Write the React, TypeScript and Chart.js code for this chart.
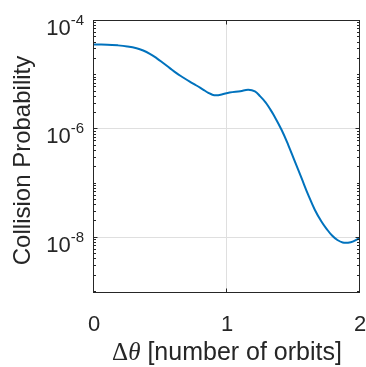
import React, { useEffect, useRef } from "react";
import { Chart, registerables } from "chart.js";

Chart.register(...registerables);

// ---- data ----
const orbitOffsets = [
  0.0, 0.1, 0.18, 0.25, 0.32, 0.37, 0.42, 0.47, 0.52, 0.57, 0.62, 0.67, 0.72, 0.77,
  0.82, 0.86, 0.89, 0.92, 0.96, 1.02, 1.1, 1.16, 1.21, 1.25, 1.29, 1.32, 1.35, 1.41,
  1.46, 1.51, 1.56, 1.61, 1.66, 1.71, 1.75, 1.79, 1.83, 1.87, 1.91, 1.95, 2.0,
];
const collisionProbability = [
  3.67e-5, 3.66e-5, 3.55e-5, 3.39e-5, 3.14e-5, 2.85e-5, 2.48e-5, 2.07e-5, 1.68e-5,
  1.35e-5, 1.09e-5, 9.08e-6, 7.62e-6, 6.46e-6, 5.43e-6, 4.73e-6, 4.37e-6, 4.27e-6,
  4.42e-6, 4.79e-6, 5.07e-6, 5.37e-6, 5.01e-6, 4.07e-6, 3.16e-6, 2.45e-6, 1.86e-6,
  9.84e-7, 5.2e-7, 2.56e-7, 1.27e-7, 6.25e-8, 3.3e-8, 2.0e-8, 1.45e-8, 1.1e-8,
  9.1e-9, 8.2e-9, 8.13e-9, 8.6e-9, 1.0e-8,
];

const xTickValues = [0, 1, 2];
const xTickLabels = ["0", "1", "2"];
const yTickValues = [1e-8, 1e-6, 1e-4];
const yTickBases = ["10", "10", "10"];
const yTickExponents = ["-8", "-6", "-4"];
const xMin = 0;
const xMax = 2;
const yMin = 1e-9;
const yMax = 1e-4;
const xLabelSymbolA = "Δ";
const xLabelSymbolB = "θ";
const xLabelText = "[number of orbits]";
const yLabelText = "Collision Probability";

// ---- styles ----
const SANS = '"Liberation Sans", Arial, Helvetica, sans-serif';
const SERIF = '"Liberation Serif", "Times New Roman", serif';
const AXIS_COLOR = "#262626";
const GRID_COLOR = "#dfdfdf";
const LINE_COLOR = "#0072BD";

const matlabAxes = {
  id: "matlabAxes",
  beforeDatasetsDraw(chart: any) {
    const { ctx, chartArea: a, scales } = chart;
    const xs = scales.x;
    const ys = scales.y;
    ctx.save();
    ctx.strokeStyle = GRID_COLOR;
    ctx.lineWidth = 1;
    ctx.beginPath();
    for (const v of xTickValues) {
      const px = Math.round(xs.getPixelForValue(v)) - 0.5;
      ctx.moveTo(px, a.top);
      ctx.lineTo(px, a.bottom);
    }
    for (const v of yTickValues) {
      const py = Math.round(ys.getPixelForValue(v)) - 0.5;
      ctx.moveTo(a.left, py);
      ctx.lineTo(a.right, py);
    }
    ctx.stroke();
    ctx.restore();
  },
  afterDatasetsDraw(chart: any) {
    const { ctx, chartArea: a, scales } = chart;
    const xs = scales.x;
    const ys = scales.y;
    ctx.save();
    ctx.strokeStyle = AXIS_COLOR;
    ctx.lineWidth = 1;
    const L = a.left - 0.5;
    const R = a.right - 0.5;
    const T = a.top - 0.5;
    const B = a.bottom + 0.5;
    ctx.strokeRect(L, T, R - L, B - T);

    ctx.beginPath();
    const majorLen = 4;
    const minorLen = 2.5;
    for (const v of xTickValues) {
      const px = Math.round(xs.getPixelForValue(v)) - 0.5;
      ctx.moveTo(px, B);
      ctx.lineTo(px, B - majorLen);
      ctx.moveTo(px, T);
      ctx.lineTo(px, T + majorLen);
    }
    const expLo = Math.floor(Math.log10(yMin));
    const expHi = Math.ceil(Math.log10(yMax));
    for (let e = expLo; e < expHi; e++) {
      for (let k = 1; k <= 9; k++) {
        const v = k * Math.pow(10, e);
        if (v < yMin * 0.999 || v > yMax * 1.001) continue;
        const isMajor = yTickValues.some((t) => Math.abs(t - v) / t < 1e-6);
        const len = isMajor ? majorLen : minorLen;
        const py = Math.round(ys.getPixelForValue(v)) - 0.5;
        ctx.moveTo(L, py);
        ctx.lineTo(L + len, py);
        ctx.moveTo(R, py);
        ctx.lineTo(R - len, py);
      }
    }
    ctx.stroke();

    // tick labels
    ctx.fillStyle = AXIS_COLOR;
    ctx.font = `22px ${SANS}`;
    ctx.textAlign = "center";
    ctx.textBaseline = "alphabetic";
    xTickValues.forEach((v, i) => {
      const px = xs.getPixelForValue(v);
      ctx.fillText(xTickLabels[i], px, a.bottom + 39);
    });

    yTickValues.forEach((v, i) => {
      const py = ys.getPixelForValue(v);
      ctx.font = `15px ${SANS}`;
      const ew = ctx.measureText(yTickExponents[i]).width;
      const expRight = a.left - 10;
      ctx.textAlign = "left";
      ctx.fillText(yTickExponents[i], expRight - ew, py + 4);
      ctx.font = `22px ${SANS}`;
      ctx.textAlign = "right";
      ctx.fillText(yTickBases[i], expRight - ew, py + 14);
    });

    // x axis label
    const fontA = `25px ${SERIF}`;
    const fontB = `italic 25px ${SERIF}`;
    const fontC = `25px ${SANS}`;
    const gap = 6;
    ctx.font = fontA;
    const wA = ctx.measureText(xLabelSymbolA).width;
    ctx.font = fontB;
    const wB = ctx.measureText(xLabelSymbolB).width + 1;
    ctx.font = fontC;
    const wC = ctx.measureText(xLabelText).width;
    const cx = (a.left + a.right) / 2;
    let sx = cx - (wA + wB + gap + wC) / 2;
    const by = a.bottom + 68;
    ctx.textAlign = "left";
    ctx.font = fontA;
    ctx.fillText(xLabelSymbolA, sx, by);
    sx += wA;
    ctx.font = fontB;
    ctx.fillText(xLabelSymbolB, sx, by);
    sx += wB + gap;
    ctx.font = fontC;
    ctx.fillText(xLabelText, sx, by);

    // y axis label
    ctx.save();
    ctx.translate(30, (a.top + a.bottom) / 2 + 4);
    ctx.rotate(-Math.PI / 2);
    ctx.textAlign = "center";
    ctx.font = `24px ${SANS}`;
    ctx.fillText(yLabelText, 0, 0);
    ctx.restore();

    ctx.restore();
  },
};

export default function App() {
  const ref = useRef<HTMLCanvasElement | null>(null);
  useEffect(() => {
    document.body.style.margin = "0";
    const canvas = ref.current;
    if (!canvas) return;
    const chart = new Chart(canvas, {
      type: "line",
      data: {
        datasets: [
          {
            data: orbitOffsets.map((x, i) => ({ x, y: collisionProbability[i] })),
            borderColor: LINE_COLOR,
            borderWidth: 2,
            pointRadius: 0,
            fill: false,
            tension: 0.4,
          },
        ],
      },
      options: {
        responsive: false,
        animation: false,
        devicePixelRatio: 1,
        layout: { padding: { left: 94, right: 6, top: 21, bottom: 75 } },
        plugins: { legend: { display: false }, tooltip: { enabled: false } },
        scales: {
          x: { type: "linear", min: xMin, max: xMax, display: false },
          y: { type: "logarithmic", min: yMin, max: yMax, display: false },
        },
      },
      plugins: [matlabAxes],
    });
    return () => chart.destroy();
  }, []);
  return (
    <div style={{ width: 366, height: 367, background: "#fff" }}>
      <canvas ref={ref} width={366} height={367} style={{ display: "block" }} />
    </div>
  );
}
